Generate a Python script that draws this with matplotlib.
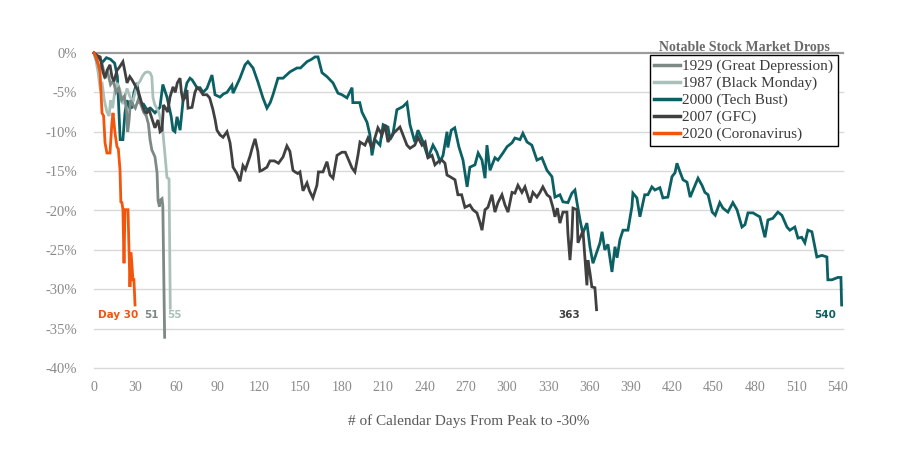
import matplotlib
matplotlib.use("Agg")
import matplotlib.pyplot as plt
from matplotlib.lines import Line2D

# ---------------- data ----------------
days_1929 = [0, 2, 4, 6, 8, 10, 12, 14, 16, 18, 20, 22, 23.5, 24.5, 25.5, 26.5, 28, 30, 32, 34,
             36, 38, 39.5, 40.7, 42, 44.3, 45.8, 46.5, 47.5, 48, 49.4, 50, 51.3]
pct_1929 = [0, -1.0, -2.0, -1.5, -3.0, -2.5, -4.0, -3.5, -5.0, -4.5, -6.0, -5.5, -7.0, -10.0, -8.5,
            -6.0, -6.5, -7.0, -6.0, -6.5, -7.5, -8.0, -9.0, -11.0, -12.3, -13.2, -15.2, -18.7,
            -19.5, -18.7, -18.5, -19.5, -36.1]

days_1987 = [0, 1.5, 3, 4.4, 6, 7.5, 9.4, 11, 12, 13.5, 15, 16.7, 18.5, 20, 21, 22.5, 24, 26, 28,
             30, 31.5, 33.4, 35, 37, 39, 40.7, 42, 42.8, 44, 45.5, 47, 48.5, 50, 51.6, 53, 54.5, 55.4]
pct_1987 = [0, -1.0, -2.5, -4.4, -4.0, -6.0, -7.5, -8.0, -6.0, -7.0, -5.0, -3.8, -4.5, -5.5, -6.5,
            -5.5, -4.5, -5.5, -6.2, -5.0, -4.0, -3.6, -3.0, -2.5, -2.4, -2.5, -3.0, -5.6, -6.5,
            -7.0, -7.5, -8.5, -10.0, -13.0, -15.8, -16.0, -32.4]

days_2000 = [0, 3, 6, 9, 12, 15, 17, 19, 21, 22.5, 24, 26, 27.6, 29, 31.2, 33.4, 36, 38.5, 41,
             44.3, 47.9, 50, 53, 56, 57.4, 58.8, 60.3, 62.5, 64.6, 67.5, 69.7, 71.2, 74.8, 77,
             79.2, 82, 85.7, 87.9, 91.5, 94, 96.6, 100.2, 101, 106, 109.7, 111.8, 115.5, 119.1,
             122.7, 125.6, 128, 130, 133.6, 137.3, 142.3, 147.4, 150, 154.7, 158, 160.5, 162.7,
             165.6, 169.2, 173.6, 177.2, 180.1, 183.7, 187.4, 188, 193, 194.6, 198.3, 200.4,
             201.9, 204, 207.7, 210, 213.5, 215, 217, 220, 224.4, 227.3, 229.5, 233, 235.3, 239,
             242.6, 246.2, 249, 251.3, 253.5, 256.4, 257, 259.5, 262, 265, 268, 271, 273, 276.7,
             279, 281.8, 284, 285.4, 287.6, 291.2, 293.4, 297, 300, 303.6, 305.7, 309.4, 311.5,
             314.5, 318, 321.7, 325.3, 329, 332.6, 334.8, 338.4, 340.6, 344.2, 347.1, 349.3,
             350.8, 353, 355, 358, 360.2, 362.4, 365.3, 367.5, 369, 371, 373.3, 376.2, 378.4,
             379.9, 382, 384.2, 387.8, 390.7, 391.4, 394.3, 396.5, 400, 402.3, 405.2, 407.4,
             411, 413.2, 416.8, 419.8, 422, 423.4, 425.6, 427.8, 430.7, 433, 435.1, 438.7,
             441.6, 443.7, 446, 449, 451.2, 454.5, 456.8, 460.4, 464, 467, 470.6, 472.8, 475,
             478.6, 481.5, 483.6, 487.3, 489.5, 493, 496.7, 499.6, 503.3, 505.4, 509, 511.3,
             514, 516.3, 518.5, 521.4, 525, 528.7, 532.3, 533, 536, 540.3, 542.5, 543]
pct_2000 = [0, -0.5, -1.2, -0.6, -0.8, -1.3, -3.0, -11.0, -11.0, -7.6, -6.0, -7.0, -6.9, -5.0,
            -3.8, -6.3, -6.5, -7.2, -7.0, -7.6, -6.9, -4.0, -5.6, -8.0, -9.8, -10.0, -8.1, -9.8,
            -6.2, -3.8, -3.2, -3.4, -4.4, -4.4, -5.0, -4.5, -2.8, -5.3, -5.6, -5.2, -5.0, -4.1,
            -5.1, -3.2, -1.5, -1.1, -1.9, -3.7, -5.7, -7.0, -6.3, -5.3, -3.2, -3.2, -2.4, -1.9,
            -1.9, -1.1, -0.8, -0.5, -0.5, -2.5, -3.0, -3.8, -5.1, -5.3, -5.7, -4.4, -6.3, -6.3,
            -7.5, -8.8, -10.4, -13.0, -11.0, -11.7, -9.1, -9.4, -11.0, -10.4, -7.2, -6.8, -6.3,
            -9.1, -11.3, -9.8, -11.3, -13.3, -11.7, -12.6, -13.8, -13.0, -10.0, -12.0, -9.8,
            -9.5, -11.9, -13.6, -17.0, -14.5, -14.2, -12.7, -13.6, -15.9, -11.7, -14.9, -13.3,
            -13.6, -12.7, -11.9, -11.4, -10.8, -11.0, -10.2, -11.3, -11.7, -13.6, -13.3, -14.9,
            -15.7, -18.3, -18.0, -18.9, -19.0, -17.8, -17.4, -19.0, -21.2, -22.9, -21.6, -24.6,
            -26.7, -25.2, -24.1, -22.7, -25.0, -24.3, -27.8, -24.6, -26.0, -23.7, -22.5, -22.5,
            -19.5, -17.8, -18.4, -20.8, -18.0, -18.0, -17.0, -17.4, -17.1, -18.4, -18.3, -15.7,
            -15.2, -14.0, -15.1, -16.1, -16.4, -18.3, -17.4, -15.9, -16.8, -17.7, -18.0, -20.2,
            -20.6, -19.0, -19.7, -20.2, -19.0, -19.9, -22.1, -21.8, -20.3, -20.3, -20.6, -20.8,
            -23.4, -21.2, -21.0, -20.2, -20.6, -22.1, -22.5, -22.1, -23.5, -23.4, -24.1, -22.5,
            -22.7, -25.9, -25.7, -25.9, -28.8, -28.8, -28.5, -28.5, -32.0]

days_2007 = [0, 2, 4.5, 6.5, 8, 9.5, 11.6, 13, 14.5, 16.7, 18.5, 21, 22.5, 24, 26, 27.6, 29.8, 32,
             33.4, 35, 37, 38.5, 40, 42, 43.5, 44.3, 46.5, 48, 49.4, 50.5, 52, 53.5, 55.2, 57.4,
             59, 60.5, 62.5, 63.5, 64.6, 66, 67.5, 68.3, 71.2, 73.3, 74.8, 77, 79.2, 82, 84,
             86.4, 88, 89.3, 91.5, 93.7, 96.6, 98.8, 100, 101, 103.8, 106, 108.2, 110, 113.3,
             115, 117, 119, 120.5, 122, 125.6, 127.8, 131, 134, 137.3, 140.1, 142.3, 144.5, 146,
             148, 149.6, 151.8, 154.7, 156.5, 159, 161.9, 163, 166.3, 169.2, 171.4, 173.6, 176.5,
             180.1, 182.5, 184.5, 187.4, 189.5, 191.7, 193.2, 196.8, 199, 201.9, 204, 206.2,
             209.2, 211.3, 213.5, 216.4, 218.6, 222.2, 224.4, 227.3, 229.5, 233, 235.3, 238.2,
             240.5, 242.6, 245.5, 247.6, 250, 252.7, 254.9, 256.4, 258.5, 262.2, 264.3, 267,
             269.4, 273, 275.2, 278.1, 280.3, 281.8, 284, 286.1, 289, 291.2, 293.4, 296.3,
             298.5, 300.7, 303.6, 305.7, 307.9, 310.8, 313, 316.6, 318.8, 321.7, 323.9, 326,
             329, 331.2, 333.3, 334.8, 336.5, 338.4, 340.6, 343.5, 344.2, 345.7, 347, 347.9,
             350.8, 351.5, 354.4, 355.1, 358, 358.7, 360.2, 361.6, 363.8, 365]
pct_2007 = [0, -0.3, -0.5, -2.4, -3.2, -2.2, -1.5, -3.0, -3.6, -2.2, -1.8, -1.1, -2.4, -3.8, -3.0,
            -3.4, -4.1, -4.8, -5.6, -6.6, -7.5, -7.6, -7.2, -8.3, -9.1, -9.5, -8.5, -10.0, -9.8,
            -6.6, -7.0, -7.5, -5.6, -4.3, -5.0, -3.8, -3.2, -5.0, -6.0, -5.7, -4.7, -7.0, -6.9,
            -5.0, -4.4, -4.7, -5.3, -5.3, -5.7, -7.2, -8.5, -9.8, -10.4, -10.7, -10.0, -11.4,
            -13.0, -14.5, -15.3, -16.3, -14.3, -14.8, -13.1, -12.0, -10.9, -12.5, -15.0, -14.9,
            -14.5, -13.7, -13.7, -14.0, -13.2, -11.8, -12.5, -14.9, -15.1, -15.3, -15.1, -17.5,
            -16.5, -17.5, -18.4, -16.8, -15.1, -15.1, -13.8, -15.5, -15.9, -13.0, -12.6, -12.6,
            -13.4, -14.6, -15.1, -13.0, -11.3, -11.7, -10.8, -12.1, -10.8, -9.5, -10.4, -9.1,
            -11.3, -10.4, -10.0, -9.4, -10.4, -11.7, -12.1, -11.7, -10.7, -11.7, -11.3, -13.3,
            -13.0, -14.2, -13.8, -13.6, -14.0, -15.5, -15.7, -16.1, -18.0, -18.0, -19.6, -19.3,
            -19.9, -20.3, -21.5, -22.5, -19.9, -19.6, -18.0, -20.2, -19.0, -18.0, -19.3, -20.2,
            -17.7, -17.8, -16.8, -17.7, -17.0, -19.0, -17.7, -18.3, -17.7, -17.0, -18.0, -18.3,
            -19.6, -20.8, -19.7, -21.6, -20.2, -20.2, -22.9, -26.3, -23.4, -19.7, -19.9, -24.1,
            -22.9, -22.5, -29.5, -26.3, -27.9, -29.7, -29.8, -32.6]

days_2020 = [0, 1.5, 3, 4.4, 5.8, 7, 8, 9.4, 11.6, 13, 13.8, 15.3, 16.7, 17.7, 18.9, 19.5, 20.3,
             21, 21.8, 22.5, 24.7, 26.1, 26.9, 28.3, 29, 29.8]
pct_2020 = [0, -0.5, -1.3, -2.5, -7.6, -8.0, -11.4, -12.7, -12.7, -8.9, -7.6, -10.2, -11.9, -12.2,
            -14.9, -18.9, -19.0, -19.9, -26.7, -19.9, -19.9, -29.7, -25.3, -28.8, -28.8, -32.0]

series_labels = ["1929 (Great Depression)", "1987 (Black Monday)", "2000 (Tech Bust)",
                 "2007 (GFC)", "2020 (Coronavirus)"]
end_labels = ["51", "55", "540", "363", "Day 30"]
x_ticks = list(range(0, 541, 30))
y_ticks = [0, -5, -10, -15, -20, -25, -30, -35, -40]
y_tick_labels = ["0%", "-5%", "-10%", "-15%", "-20%", "-25%", "-30%", "-35%", "-40%"]

# ---------------- style ----------------
colors = ["#7c8984", "#a9c1ba", "#0b6064", "#404040", "#f4550c"]
serif = "Liberation Serif"

fig = plt.figure(figsize=(9.0, 4.69), dpi=100, facecolor="white")
ax = fig.add_axes([94 / 900, 1 - 368 / 469, (843 - 94) / 900, (368 - 53) / 469])
ax.set_facecolor("white")

ax.set_xlim(0, 544)
ax.set_ylim(-40, 0)

for y in y_ticks:
    if y == 0:
        continue
    ax.axhline(y, color="#d9d9d9", lw=1.0, zorder=0, clip_on=False)
ax.axhline(0, color="#9a9a9a", lw=1.6, zorder=1, clip_on=False)

data = [(days_1929, pct_1929), (days_1987, pct_1987), (days_2000, pct_2000),
        (days_2007, pct_2007), (days_2020, pct_2020)]
zorders = [4, 3, 2, 5, 6]
for (d, p), c, lab, z in zip(data, colors, series_labels, zorders):
    ax.plot(d, p, color=c, lw=2.0, label=lab, zorder=z, clip_on=False,
            solid_joinstyle="miter")

for s in ax.spines.values():
    s.set_visible(False)

ax.set_xticks(x_ticks)
ax.set_xticklabels([str(v) for v in x_ticks], fontfamily=serif, fontsize=10, color="#8a8a8a")
ax.set_yticks(y_ticks)
ax.set_yticklabels(y_tick_labels, fontfamily=serif, fontsize=10.5, color="#8a8a8a")
ax.tick_params(axis="both", length=0)
ax.tick_params(axis="x", pad=9)
ax.tick_params(axis="y", pad=12)

ax.set_xlabel("# of Calendar Days From Peak to -30%", fontfamily=serif, fontsize=11,
              color="#595959", labelpad=15)

# end annotations
ann_x = [41.5, 58.5, 531, 345, 17.8]
for lab, c, xa in zip(end_labels, colors, ann_x):
    ax.text(xa, -33.3, lab, color=c, fontsize=7.5, fontweight="bold",
            fontfamily="DejaVu Sans", ha="center", va="center", zorder=7)

# legend
handles = [Line2D([0], [0], color=c, lw=2.5) for c in colors]
leg = ax.legend(handles, series_labels, loc="upper right",
                bbox_to_anchor=(838 / 900, 1 - 55 / 469), bbox_transform=fig.transFigure,
                borderaxespad=0, frameon=True, fancybox=False, framealpha=1,
                prop={"family": serif, "size": 11}, labelspacing=0.2,
                handlelength=1.7, handletextpad=0.15, borderpad=0.3)
leg.get_frame().set_edgecolor("black")
leg.get_frame().set_linewidth(1.0)
leg.set_zorder(10)
for t in leg.get_texts():
    t.set_color("#3a3a3a")

ax.text(744 / 900, 1 - 47 / 469, "Notable Stock Market Drops", transform=fig.transFigure,
        ha="center", va="center", fontfamily=serif, fontweight="bold", fontsize=10,
        color="#6a6a6a")

fig.savefig("out.png", dpi=100, facecolor="white")
